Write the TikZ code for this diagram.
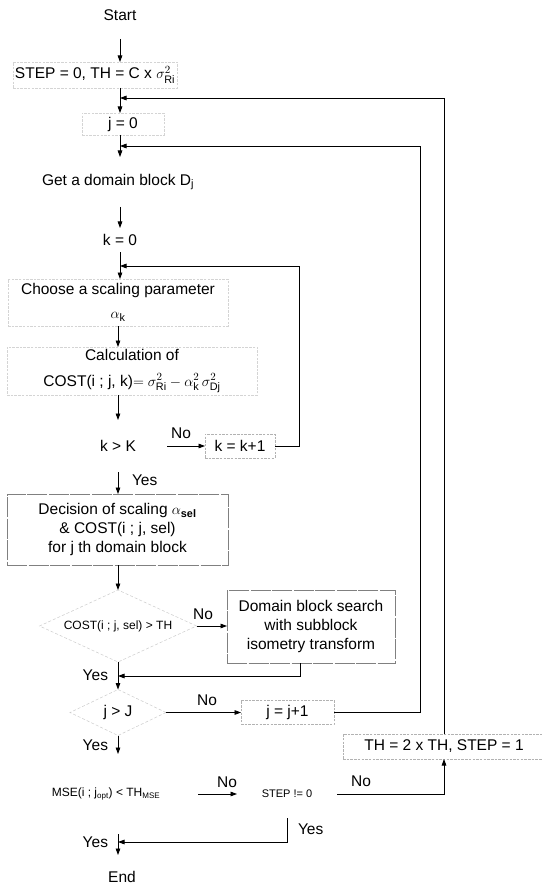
\documentclass[tikz,border=0pt]{standalone}
\usepackage{amsmath}
\usepackage{fontspec}
\setmainfont{Liberation Sans}
\usetikzlibrary{arrows.meta,shapes.geometric}

\begin{document}
\begin{tikzpicture}[x=1pt,y=-1pt,
  every node/.style={inner sep=0pt, outer sep=0pt, align=center,
    font=\fontsize{15.5}{19}\selectfont},
  small/.style={font=\fontsize{12}{14}\selectfont},
  flow/.style={line width=0.8pt, draw=black},
  arr/.style={flow, -{Triangle[length=6.5pt,width=4.6pt]}},
  faintbox/.style={draw=black!17, line width=0.5pt, dash pattern=on 2.5pt off 1.2pt},
  dotbox/.style={draw=black!30, line width=0.5pt, dash pattern=on 2.5pt off 1.2pt},
  softbox/.style={draw=black!50, line width=0.6pt, dash pattern=on 20pt off 1.5pt},
  faintdiam/.style={diamond, draw=black!20, line width=0.5pt, dash pattern=on 3pt off 2pt},
]
\fill[white] (0,0) rectangle (541,885);
\useasboundingbox (0,0) rectangle (541,885);

% ---- nodes of the main column
\node[minimum height=48pt] (start) at (120,15) {Start};
\node[faintbox, minimum width=164pt, minimum height=26pt] (init) at (95,75)
  {STEP = 0, TH = C x $\sigma_{\text{Ri}}^{2}$};
\node[faintbox, minimum width=82pt, minimum height=22pt] (j0) at (123,124) {j = 0};
\node[minimum width=170pt, minimum height=50pt] (getD) at (118,182)
  {Get a domain block D$_{\text{j}}$};
\node[minimum width=50pt, minimum height=24pt] (k0) at (120,240) {k = 0};
\node[faintbox, minimum width=220pt, minimum height=47pt] (choose) at (118,302.5)
  {Choose a scaling parameter\\[5pt]$\alpha_{\text{k}}$};
\node[faintbox, minimum width=250pt, minimum height=48pt] (calc) at (132,371)
  {Calculation of\\[7pt]COST(i ; j, k)$=\sigma_{\text{Ri}}^{2}-\alpha_{\text{k}}^{2}\,\sigma_{\text{Dj}}^{2}$};
\node[minimum width=98pt, minimum height=52pt] (kK) at (118,446) {k > K};
\node[dotbox, minimum width=70pt, minimum height=24pt] (kinc) at (240,446) {k = k+1};
\node[softbox, minimum width=221pt, minimum height=71pt] (dec) at (117.5,529.5)
  {Decision of scaling $\alpha_{\textbf{sel}}$\\ \& COST(i ; j, sel)\\ for j th domain block};
\node[faintdiam, shape aspect=2.2, minimum width=157pt, minimum height=72pt, small] (cost)
  at (118,626) {COST(i ; j, sel) > TH};
\node[softbox, minimum width=168pt, minimum height=73pt] (dom) at (311,626.5)
  {Domain block search\\ with subblock\\ isometry transform};
\node[faintdiam, shape aspect=2.1, minimum width=96pt, minimum height=46pt] (jJ)
  at (118,712.5) {j > J};
\node[dotbox, minimum width=93pt, minimum height=24pt] (jinc) at (287.5,712.5) {j = j+1};
\node[small, minimum width=184pt, minimum height=80pt] (mse) at (106,794)
  {MSE(i ; j$_{\text{opt}}$) < TH$_{\text{MSE}}$};
\node[font=\fontsize{11}{13}\selectfont, minimum width=100pt, minimum height=48pt] (stepne)
  at (287,794) {STEP != 0};
\node[dotbox, minimum width=202pt, minimum height=25pt] (th) at (444,746.5)
  {TH = 2 x TH, STEP = 1};
\node[minimum height=44pt] (end) at (122,877) {End};

% ---- branch labels
\node (noK) at (181,433) {No};
\node[anchor=west] (yesK) at (132,480) {Yes};
\node (noC) at (203,614) {No};
\node[anchor=east] (yesC) at (108,675) {Yes};
\node (noJ) at (207,700) {No};
\node[anchor=east] (yesJ) at (108,745) {Yes};
\node (noM) at (227,782) {No};
\node (noS) at (361,781) {No};
\node[anchor=west] (yesS) at (298,829) {Yes};
\node[anchor=east] (yesM) at (108,842) {Yes};

% ---- turning points of the loops
\coordinate (thret) at (444,98);
\coordinate (jret) at (420,146);
\coordinate (kret) at (299,266);
\coordinate (mrg) at (118,676);
\coordinate (emrg) at (118,842);

% ---- forward connectors
\draw[arr] (start.south) -- (start.south |- init.north);
\draw[arr] (init.south -| start) -- (j0.north -| start);
\draw[arr] (j0.south -| start) -- (getD.north -| start);
\draw[arr] (getD.south -| k0) -- (k0.north);
\draw[arr] (k0.south) -- (k0.south |- choose.north);
\draw[arr] (choose.south) -- (choose.south |- calc.north);
\draw[arr] (calc.south -| kK) -- (kK.north);
\draw[arr] (kK.east) -- (kinc.west);
\draw[arr] (kK.south) -- (kK.south |- dec.north);
\draw[arr] (dec.south -| cost) -- (cost.north);
\draw[arr] (cost.east) -- (cost.east -| dom.west);
\draw[arr] ([xshift=-11pt]dom.south) |- (mrg);
\draw[arr] (cost.south) -- (jJ.north);
\draw[arr] (jJ.east) -- (jinc.west);
\draw[arr] (jJ.south) -- (jJ.south |- mse.north);
\draw[arr] (mse.east) -- (mse.east -| stepne.west);
\draw[arr] (stepne.east) -| (th.south);
\draw[arr] (stepne.south) |- (emrg);
\draw[arr] (jJ |- mse.south) -- (jJ |- end.north);

% ---- loop-back connectors
\draw[arr] (kinc.east) -| (kret) -- (k0 |- kret);
\draw[arr] (jinc.east) -| (jret) -- (start |- jret);
\draw[arr] (th.north) -- (thret) -- (start |- thret);
\end{tikzpicture}
\end{document}
